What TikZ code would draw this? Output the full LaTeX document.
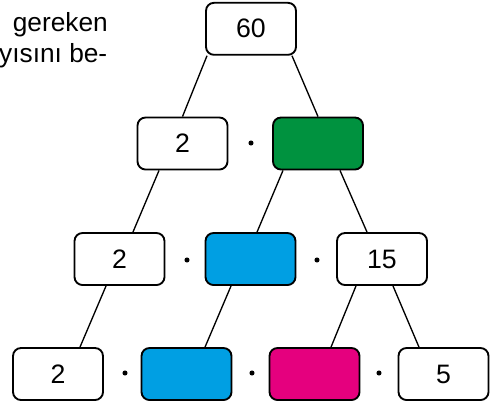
\documentclass[tikz,border=0pt]{standalone}
\usepackage{fontspec}
\setmainfont{Liberation Sans}
\definecolor{cgreen}{RGB}{0,146,63}
\definecolor{cblue}{RGB}{0,159,227}
\definecolor{cmag}{RGB}{229,0,126}
\begin{document}
\begin{tikzpicture}[x=0.75pt,y=-0.75pt,
  box/.style={draw, line width=1.4pt, rounded corners=6pt, fill=white,
    minimum width=67.5pt, minimum height=39pt, inner sep=0pt, font=\fontsize{20}{24}\selectfont},
  dotn/.style={circle, fill=black, inner sep=0pt, minimum size=3.8pt},
  conn/.style={line width=1pt},
  txt/.style={anchor=base east, inner sep=0pt, font=\fontsize{19.7}{24}\selectfont}]
\clip (0,0) rectangle (493,405);
\node[txt] (t1) at (108,31.7) {gereken};
\node[txt] (t2) at (107.5,62) {yısını be-};
% row 1
\node[box] (top) at (251,28.8) {60};
% row 2
\node[box] (r2a) at (182.5,143.5) {2};
\node[box, fill=cgreen] (r2b) at (318,143.5) {};
\node[dotn] (d21) at (251,143) {};
% row 3
\node[box] (r3a) at (119.5,259) {2};
\node[box, fill=cblue] (r3b) at (250.5,259) {};
\node[box] (r3c) at (382,259) {15};
\node[dotn] (d31) at (187,260) {};
\node[dotn] (d32) at (317,260) {};
% row 4
\node[box] (r4a) at (58,374) {2};
\node[box, fill=cblue] (r4b) at (186.5,374) {};
\node[box, fill=cmag] (r4c) at (314.5,374) {};
\node[box] (r4d) at (443.5,374) {5};
\node[dotn] (d41) at (125,373) {};
\node[dotn] (d42) at (252,373) {};
\node[dotn] (d43) at (379,373) {};
% connectors
\draw[conn] ([xshift=-33pt]top.south) -- (r2a.north);
\draw[conn] ([xshift=30.75pt]top.south) -- (r2b.north);
\draw[conn] ([xshift=-17.6pt]r2a.south) -- ([xshift=10.1pt]r3a.north);
\draw[conn] ([xshift=-26.25pt]r2b.south) -- ([xshift=4.9pt]r3b.north);
\draw[conn] ([xshift=16.5pt]r2b.south) -- ([xshift=-11.25pt]r3c.north);
\draw[conn] ([xshift=-10.1pt]r3a.south) -- ([xshift=16.5pt]r4a.north);
\draw[conn] ([xshift=-14.6pt]r3b.south) -- ([xshift=13.9pt]r4b.north);
\draw[conn] ([xshift=-19.5pt]r3c.south) -- ([xshift=12.4pt]r4c.north);
\draw[conn] ([xshift=8.25pt]r3c.south) -- ([xshift=-18.4pt]r4d.north);
\end{tikzpicture}
\end{document}
